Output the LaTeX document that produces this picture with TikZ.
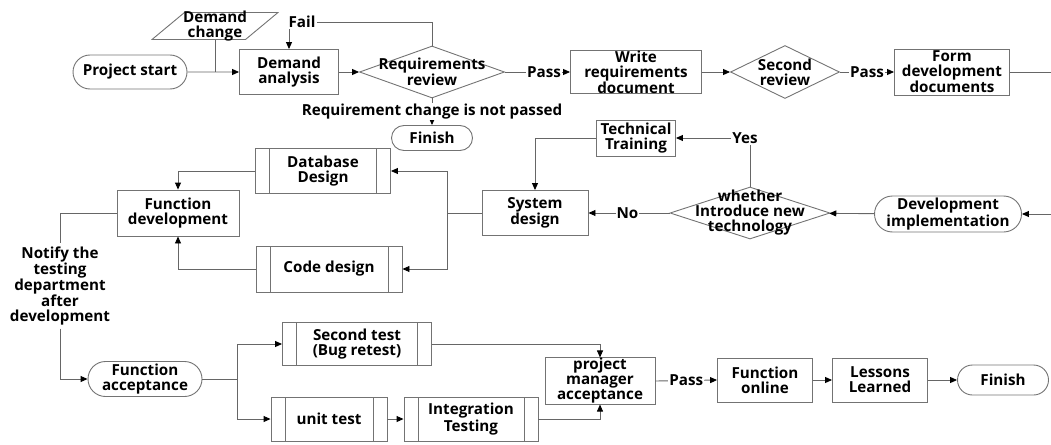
\documentclass[tikz,border=0pt]{standalone}
\usepackage{fontspec}
\setmainfont{Open Sans}
\usetikzlibrary{shapes.geometric,shapes.misc,arrows.meta}

\begin{document}
\begin{tikzpicture}[x=1pt, y=-1pt,
    every node/.style={font=\fontsize{15.2}{15}\selectfont\bfseries, align=center, inner sep=0.5pt},
    shp/.style={draw=black!55, line width=0.9pt},
    box/.style={shp, rectangle, minimum width=#1},
    term/.style={shp, rounded rectangle, minimum width=#1},
    dec/.style={shp, diamond, inner sep=2pt},
    sub/.style={box=#1, path picture={
        \draw[black!55, line width=0.9pt]
            ([xshift=14pt]path picture bounding box.north west) -- ([xshift=14pt]path picture bounding box.south west)
            ([xshift=-14pt]path picture bounding box.north east) -- ([xshift=-14pt]path picture bounding box.south east);}},
    line/.style={draw=black!60, line width=0.9pt},
    arr/.style={line, -{Triangle[length=7pt, width=6pt, black]}},
    tag/.style={fill=white, inner sep=1pt}]
    \useasboundingbox (0,0) rectangle (1051,444);

    \node[term=115, minimum height=34] (ps) at (130,72) {Project start};
    \node[shp, trapezium, trapezium left angle=62, trapezium right angle=118, trapezium stretches=true,
          minimum width=126, minimum height=27, inner sep=2pt,
          label={[align=center]center:Demand\\change}] (dc) at (215,26) {};
    \node[box=99, minimum height=45] (da) at (289,72) {Demand\\analysis};
    \node[dec, minimum width=145, minimum height=52,
          label={[align=center]center:Requirements\\review}] (rr) at (432,72) {};
    \node[inner sep=1pt] (fail) at (302,22) {Fail};
    \node[term=82, minimum height=25] (fin1) at (432,138) {Finish};
    \node[box=131, minimum height=43] (wr) at (636,72) {Write\\requirements\\document};
    \node[dec, minimum width=109, minimum height=53,
          label={[align=center]center:Second\\review}] (sr) at (785,72) {};
    \node[box=115, minimum height=46] (formdoc) at (952,72) {Form\\development\\documents};
    \coordinate (rim) at (1065,140);

    \node[box=79, minimum height=36] (tt) at (636,138) {Technical\\Training};
    \node[box=106, minimum height=45] (sd) at (535,213) {System\\design};
    \node[dec, minimum width=160, minimum height=52,
          label={[align=center]center:whether\\Introduce new\\technology}] (wh) at (750,213) {};
    \node[inner sep=1pt] (yes) at (745,138) {Yes};
    \node[term=148, minimum height=36] (dev) at (948,214) {Development\\implementation};
    \node[sub=135, minimum height=45] (db) at (323,171) {Database\\Design};
    \node[sub=146, minimum height=46] (cd) at (329,269) {Code design};
    \coordinate (sdj) at (447,213);
    \node[box=122, minimum height=46] (fdev) at (178,213) {Function\\development};
    \node[inner sep=3pt] (notify) at (60,286) {Notify the\\testing\\department\\after\\development};

    \node[term=115, minimum height=35] (fa) at (145,379) {Function\\acceptance};
    \coordinate (faj) at (237,379);
    \node[sub=149, minimum height=43] (st) at (357,344) {Second test\\(Bug retest)};
    \node[sub=116, minimum height=44] (ut) at (329,419) {unit test};
    \node[sub=134, minimum height=44] (it) at (471,419) {Integration\\Testing};
    \node[box=110, minimum height=45] (pm) at (600,381) {project\\manager\\acceptance};
    \node[box=95, minimum height=44] (fo) at (765,380) {Function\\online};
    \node[box=95, minimum height=44] (ll) at (880,380) {Lessons\\Learned};
    \node[term=92, minimum height=30] (fin2) at (1003,380) {Finish};

    \draw[arr] (ps) -- (da);
    \draw[line] (dc.south) -- (dc.south |- ps.east);
    \draw[arr] (da) -- (rr);
    \draw[line] (rr.north) |- (fail.east);
    \draw[arr] (fail.south -| da.north) -- (da.north);
    \draw[arr] (rr.south) -- node[tag, pos=0.5] {Requirement change is not passed} (fin1.north);
    \draw[arr] (rr.east) -- node[tag, pos=0.6] {Pass} (wr.west);
    \draw[arr] (wr) -- (sr);
    \draw[arr] (sr.east) -- node[tag, pos=0.5] {Pass} (formdoc.west);
    \draw[arr] (formdoc.east) -| (rim) |- (dev.east);

    \draw[arr] (dev) -- (wh);
    \draw[arr] (wh.west) -- node[tag, pos=0.52] {No} (sd.east);
    \draw[line] (wh.north) -- (yes.south -| wh.north);
    \draw[arr] (yes.west) -- (tt.east);
    \draw[arr] (tt.west) -| (sd.north);
    \draw[line] (sd.west) -- (sdj);
    \draw[arr] (sdj) |- (db.east);
    \draw[arr] (sdj) |- (cd.east);
    \draw[arr] (db.west) -| (fdev.north);
    \draw[arr] (cd.west) -| (fdev.south);
    \draw[line] (fdev.west) -| (notify.north);
    \draw[arr] (notify.south) |- (fa.west);

    \draw[line] (fa.east) -- (faj);
    \draw[arr] (faj) |- (st.west);
    \draw[arr] (faj) |- (ut.west);
    \draw[arr] (ut) -- (it);
    \draw[arr] (st.east) -| (pm.north);
    \draw[arr] (it.east) -| (pm.south);
    \draw[arr] (pm.east) -- node[tag, pos=0.5] {Pass} (fo.west);
    \draw[arr] (fo) -- (ll);
    \draw[arr] (ll) -- (fin2);
\end{tikzpicture}
\end{document}
